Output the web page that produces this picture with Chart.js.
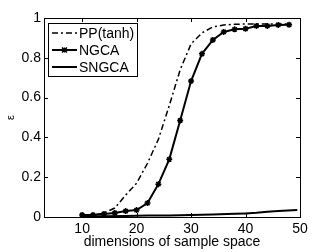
<!DOCTYPE html>
<html><head><meta charset="utf-8">
<script src="https://cdn.jsdelivr.net/npm/chart.js@4.4.0/dist/chart.umd.min.js"></script>
<style>html,body{margin:0;padding:0;background:#fff}#c{display:block}</style>
</head><body>
<canvas id="c" width="332" height="252"></canvas>
<script>
const dims = [10,12,14,16,18,20,22,24,26,28,30,32,34,36,38,40,42,44,46,48];
const ppTanh = [0.005,0.01,0.02,0.045,0.11,0.17,0.27,0.39,0.56,0.74,0.87,0.925,0.955,0.965,0.968,0.97,0.97,0.97,0.97,0.97];
const ngca = [0.01,0.01,0.015,0.02,0.03,0.035,0.07,0.165,0.29,0.485,0.683,0.82,0.89,0.93,0.943,0.946,0.96,0.96,0.965,0.966];
const sngcaX = [10,14,18,22,26,30,34,38,40,42,44,46,49.5];
const sngca = [0.003,0.004,0.005,0.007,0.008,0.01,0.012,0.016,0.018,0.021,0.026,0.03,0.035];
const xTicks = [10,20,30,40,50];
const yTicks = [0,0.2,0.4,0.6,0.8,1];
const seriesLabels = ['PP(tanh)','NGCA','SNGCA'];
const xTitle = 'dimensions of sample space';
const yTitle = 'ε';

const FONT = 'Liberation Sans, Arial, Helvetica, sans-serif';

const boxPlugin = {
  id: 'boxTicks',
  afterDatasetsDraw(chart) {
    const {ctx, chartArea: a, scales: {x, y}} = chart;
    ctx.save();
    ctx.strokeStyle = '#000';
    ctx.lineWidth = 1;
    ctx.strokeRect(a.left + 0.5, a.top + 0.5, a.right - a.left, a.bottom - a.top);
    ctx.beginPath();
    const L = 4;
    xTicks.forEach(v => {
      const px = Math.round(x.getPixelForValue(v)) + 0.5;
      ctx.moveTo(px, a.bottom); ctx.lineTo(px, a.bottom - L);
      ctx.moveTo(px, a.top); ctx.lineTo(px, a.top + L);
    });
    yTicks.forEach(v => {
      const py = Math.round(y.getPixelForValue(v)) + 0.5;
      ctx.moveTo(a.left, py); ctx.lineTo(a.left + L, py);
      ctx.moveTo(a.right, py); ctx.lineTo(a.right - L, py);
    });
    ctx.stroke();
    ctx.restore();
  },
  afterDraw(chart) {
    const {ctx, chartArea: a} = chart;
    const bx = a.left + 4, by = a.top + 5, bw = 89, bh = 53;
    ctx.save();
    ctx.fillStyle = '#fff';
    ctx.fillRect(bx, by, bw, bh);
    ctx.strokeStyle = '#000';
    ctx.lineWidth = 1;
    ctx.strokeRect(bx + 0.5, by + 0.5, bw, bh);
    ctx.font = '14px ' + FONT;
    ctx.textBaseline = 'middle';
    ctx.fillStyle = '#000';
    chart.data.datasets.forEach((ds, i) => {
      const yy = by + 10 + i * 17;
      ctx.save();
      ctx.strokeStyle = '#000';
      ctx.lineWidth = ds.borderWidth;
      ctx.setLineDash(ds.borderDash || []);
      ctx.beginPath();
      ctx.moveTo(bx + 4, yy); ctx.lineTo(bx + 29, yy);
      ctx.stroke();
      ctx.restore();
      if (ds.pointRadius > 0) {
        ctx.save();
        ctx.lineWidth = 1.5;
        const cx = bx + 16.5, r = 2.5;
        ctx.beginPath();
        ctx.moveTo(cx - r, yy - r); ctx.lineTo(cx + r, yy + r);
        ctx.moveTo(cx + r, yy - r); ctx.lineTo(cx - r, yy + r);
        ctx.moveTo(cx, yy - r); ctx.lineTo(cx, yy + r);
        ctx.stroke();
        ctx.restore();
      }
      ctx.fillText(ds.label, bx + 31, yy + 1);
    });
    ctx.restore();
  }
};

new Chart(document.getElementById('c'), {
  type: 'line',
  data: {
    datasets: [
      {label: seriesLabels[0], data: dims.map((d, i) => ({x: d, y: ppTanh[i]})),
       borderColor: '#000', borderWidth: 1.5, borderDash: [6,3,2,3], pointRadius: 0, tension: 0},
      {label: seriesLabels[1], data: dims.map((d, i) => ({x: d, y: ngca[i]})),
       borderColor: '#000', borderWidth: 2, pointStyle: 'star', pointRadius: 3, pointBorderWidth: 1.5,
       pointBorderColor: '#000', pointBackgroundColor: '#000', tension: 0},
      {label: seriesLabels[2], data: sngcaX.map((d, i) => ({x: d, y: sngca[i]})),
       borderColor: '#000', borderWidth: 2, pointRadius: 0, tension: 0}
    ]
  },
  options: {
    responsive: false,
    animation: false,
    layout: {padding: {top: 18, right: 32, left: 0, bottom: 0}},
    plugins: {legend: {display: false}, tooltip: {enabled: false}},
    scales: {
      x: {
        type: 'linear', min: 3, max: 50,
        afterBuildTicks: s => { s.ticks = xTicks.map(v => ({value: v})); },
        afterFit: s => { s.height = 35; },
        grid: {display: false, drawTicks: false},
        border: {display: false},
        ticks: {color: '#000', font: {family: FONT, size: 14}, padding: 4, maxRotation: 0, autoSkip: false},
        title: {display: true, text: xTitle, color: '#000', font: {family: FONT, size: 14}, padding: {top: 0, bottom: 1}}
      },
      y: {
        type: 'linear', min: 0, max: 1,
        afterBuildTicks: s => { s.ticks = yTicks.map(v => ({value: v})); },
        afterFit: s => { s.width = 44; },
        grid: {display: false, drawTicks: false},
        border: {display: false},
        ticks: {color: '#000', font: {family: FONT, size: 14}, padding: 3,
                callback: v => (v === 0 || v === 1) ? String(v) : v.toFixed(1)},
        title: {display: true, text: yTitle, color: '#000', font: {family: FONT, size: 11}, padding: {top: 4, bottom: 0}}
      }
    }
  },
  plugins: [boxPlugin]
});
</script>
</body></html>
